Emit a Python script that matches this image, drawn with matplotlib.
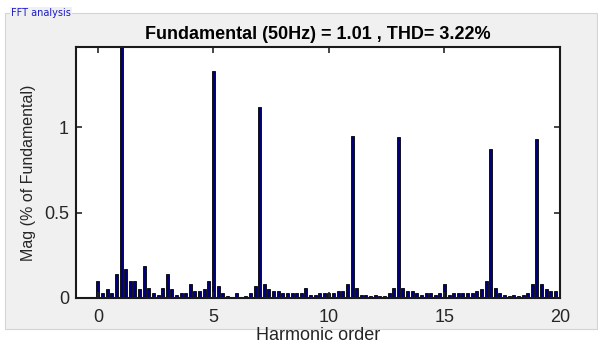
import numpy as np
import matplotlib
matplotlib.use("Agg")
import matplotlib.pyplot as plt
from matplotlib.patches import Rectangle

plt.rcParams['font.family'] = ['Liberation Sans', 'DejaVu Sans']

# harmonic order axis, 0.2 steps (5 bins per harmonic)
harmonic = np.arange(100) * 0.2
mag = [
    0.10, 0.03, 0.05, 0.03, 0.14, 100.0, 0.17, 0.10, 0.10, 0.05,
    0.19, 0.06, 0.03, 0.02, 0.06, 0.14, 0.05, 0.02, 0.03, 0.03,
    0.08, 0.04, 0.04, 0.05, 0.10, 1.33, 0.07, 0.03, 0.01, 0.00,
    0.03, 0.00, 0.01, 0.03, 0.07, 1.12, 0.08, 0.05, 0.04, 0.04,
    0.03, 0.03, 0.03, 0.03, 0.03, 0.06, 0.02, 0.02, 0.03, 0.03,
    0.03, 0.03, 0.04, 0.04, 0.08, 0.95, 0.06, 0.02, 0.02, 0.01,
    0.02, 0.01, 0.01, 0.03, 0.06, 0.94, 0.06, 0.04, 0.04, 0.03,
    0.02, 0.03, 0.03, 0.02, 0.03, 0.08, 0.02, 0.03, 0.03, 0.03,
    0.03, 0.03, 0.04, 0.05, 0.10, 0.87, 0.06, 0.03, 0.02, 0.01,
    0.02, 0.01, 0.02, 0.03, 0.08, 0.93, 0.08, 0.05, 0.04, 0.04,
]
x_ticks = [0, 5, 10, 15, 20]
y_ticks = [0, 0.5, 1]
y_tick_labels = ['0', '0.5', '1']
title = 'Fundamental (50Hz) = 1.01 , THD= 3.22%'

W, H = 598, 344
fig = plt.figure(figsize=(W / 100, H / 100), dpi=100)
fig.patch.set_facecolor('white')

# gray uipanel behind the axes
panel = Rectangle((5 / W, 1 - 329 / H), 592 / W, 316 / H, transform=fig.transFigure,
                  facecolor='#f0f0f0', edgecolor='#d4d4d4', linewidth=0.8, zorder=-5)
fig.patches.append(panel)
fig.text(11 / W, 1 - 13 / H, 'FFT analysis', color='#1a1acc', fontsize=7,
         ha='left', va='center', family='DejaVu Sans', zorder=-1,
         bbox=dict(facecolor='#f0f0f0', edgecolor='none', pad=1.0))

ax = fig.add_axes([76 / W, 1 - 298 / H, 484 / W, 251 / H])
ax.set_zorder(2)
ax.bar(harmonic, mag, width=0.13, color='#00007a', edgecolor='black', linewidth=0.6)
ax.set_xlim(-0.95, 20)
ax.set_ylim(0, 1.468)
ax.set_xticks(x_ticks)
ax.set_yticks(y_ticks)
ax.set_yticklabels(y_tick_labels)
ax.tick_params(direction='in', length=4, width=1.2, top=True, right=True,
               labelsize=13, colors='#262626')
ax.tick_params(axis='x', pad=8)
ax.tick_params(axis='y', pad=5)
for s in ax.spines.values():
    s.set_linewidth(1.5)
    s.set_color('#1a1a1a')

ax.set_title(title, fontsize=13, fontweight='bold', pad=6)
ax.set_ylabel('Mag (% of Fundamental)', fontsize=11.5, color='#262626', labelpad=6)
fig.text(318 / W, 1 - 335 / H, 'Harmonic order', fontsize=13, color='#262626',
         ha='center', va='center')

fig.savefig('out.png', dpi=100)
